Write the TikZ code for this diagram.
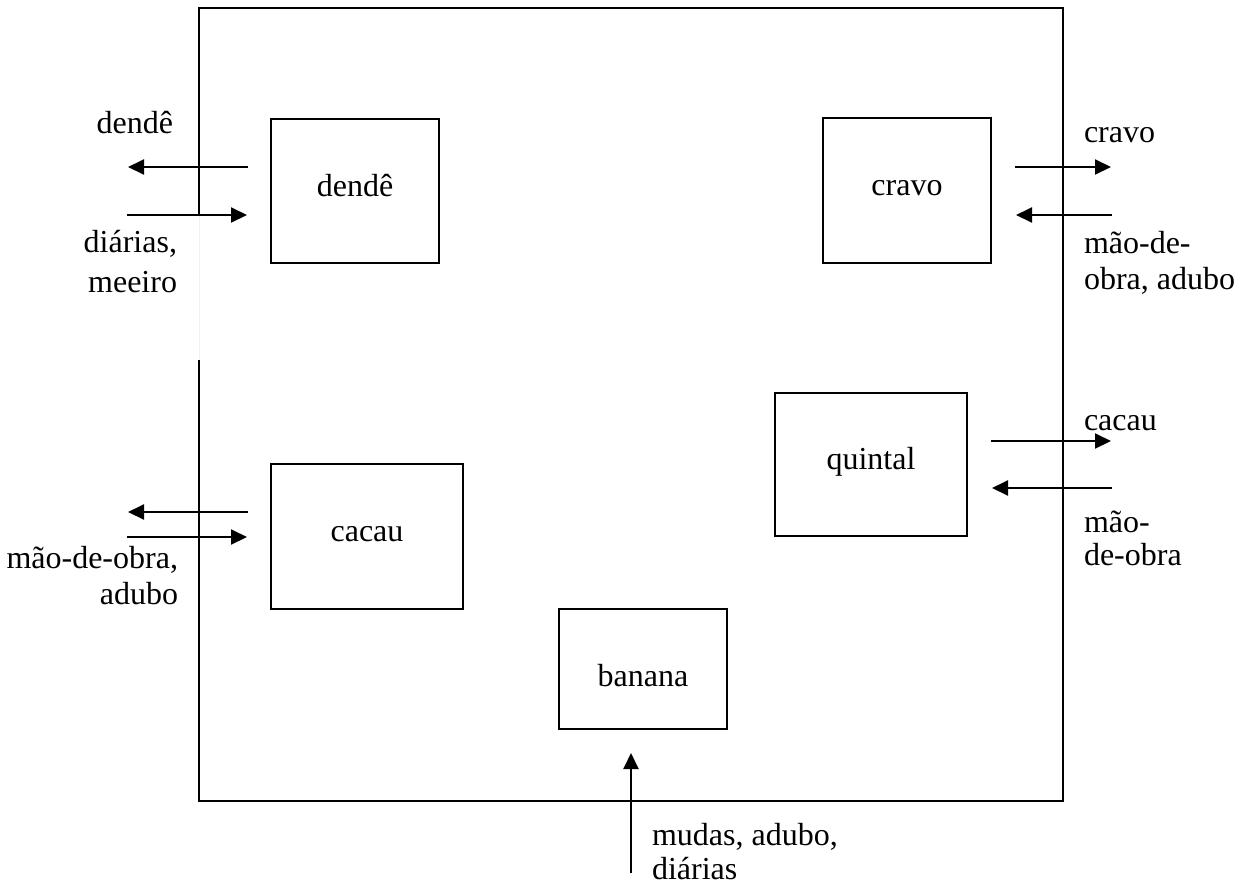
\documentclass[tikz,border=0pt]{standalone}
\usepackage{fontspec}
\setmainfont{Liberation Serif}
\usetikzlibrary{arrows.meta}
\begin{document}
\begin{tikzpicture}[x=1pt,y=-1pt,
  line width=2pt,
  font=\fontsize{32}{37}\selectfont,
  unit/.style={draw,line width=2pt,rectangle,inner sep=0pt,text height=10pt,text depth=0pt},
  word/.style={inner sep=0pt},
  flow/.style={-{Triangle[length=16pt,width=15pt]}}]
\useasboundingbox (0,0) rectangle (1243,884);

% farm boundary, with a break on the left side
\draw (199,215) -- (199,8) -- (1063,8) -- (1063,801) -- (199,801) -- (199,360);
\draw[gray!12,line width=1pt] (199,215) -- (199,360);

% production units
\node[unit,minimum width=168pt,minimum height=144pt] (dende) at (355,191) {dendê};
\node[unit,minimum width=168pt,minimum height=145pt] (cravo) at (907,190.5) {cravo};
\node[unit,minimum width=192pt,minimum height=143pt] (quintal) at (871,464.5) {quintal};
\node[unit,minimum width=192pt,minimum height=145pt] (cacau) at (367,536.5) {cacau};
\node[unit,minimum width=168pt,minimum height=120pt,text height=34pt] (banana) at (643,669) {banana};

% arrow end points
\coordinate (d1a) at (248,167); \coordinate (d1b) at (128,167);
\coordinate (d2a) at (127,215); \coordinate (d2b) at (247,215);
\coordinate (c1a) at (248,512); \coordinate (c1b) at (128,512);
\coordinate (c2a) at (127,537); \coordinate (c2b) at (247,537);
\coordinate (v1a) at (1015,167); \coordinate (v1b) at (1111,167);
\coordinate (v2a) at (1112,215); \coordinate (v2b) at (1016,215);
\coordinate (q1a) at (991,441); \coordinate (q1b) at (1111,441);
\coordinate (q2a) at (1112,488); \coordinate (q2b) at (992,488);
\coordinate (b1a) at (631,873); \coordinate (b1b) at (631,753);

\draw[flow] (d1a) -- (d1b);
\draw[flow] (d2a) -- (d2b);
\draw[flow] (c1a) -- (c1b);
\draw[flow] (c2a) -- (c2b);
\draw[flow] (v1a) -- (v1b);
\draw[flow] (v2a) -- (v2b);
\draw[flow] (q1a) -- (q1b);
\draw[flow] (q2a) -- (q2b);
\draw[flow] (b1a) -- (b1b);

% flow labels
\node[word,anchor=base east] (l1) at (174,133) {dendê};
\node[word,anchor=base east] (l2) at (178,252) {diárias,};
\node[word,anchor=base east] (l3) at (178,292) {meeiro};
\node[word,anchor=base east] (l4) at (179,568) {mão-de-obra,};
\node[word,anchor=base east] (l5) at (179,604) {adubo};
\node[word,anchor=base west] (l6) at (1083,142) {cravo};
\node[word,anchor=base west] (l7) at (1083,253) {mão-de-};
\node[word,anchor=base west] (l8) at (1083,289) {obra, adubo};
\node[word,anchor=base west] (l9) at (1083,430) {cacau};
\node[word,anchor=base west] (l10) at (1083,532) {mão-};
\node[word,anchor=base west] (l11) at (1083,565) {de-obra};
\node[word,anchor=base west] (l12) at (651,845) {mudas, adubo,};
\node[word,anchor=base west] (l13) at (651,879) {diárias};
\end{tikzpicture}
\end{document}
